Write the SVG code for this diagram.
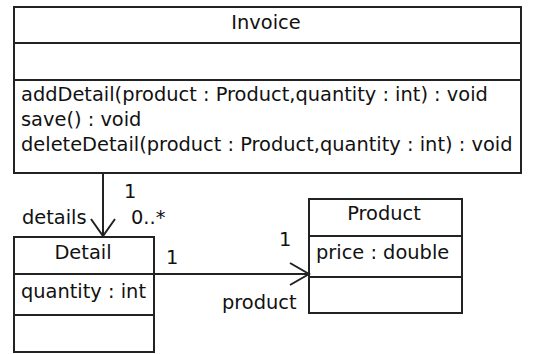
<svg xmlns="http://www.w3.org/2000/svg" width="537" height="354" viewBox="0 0 537 354">
  <style>
    .box { fill: #ffffff; stroke: #222222; stroke-width: 2; }
    .div { stroke: #222222; stroke-width: 2; }
    .edge { stroke: #222222; stroke-width: 2; fill: none; }
    text { font-family: "DejaVu Sans", "Liberation Sans", sans-serif; font-size: 19.4px; fill: #111111; }
    .c { text-anchor: middle; }
  </style>
  <rect width="537" height="354" fill="#ffffff"/>

  <g id="Invoice">
    <rect class="box" x="14" y="7" width="507" height="166"/>
    <line class="div" x1="14" y1="43" x2="521" y2="43"/>
    <line class="div" x1="14" y1="80" x2="521" y2="80"/>
    <text class="c" x="266" y="29">Invoice</text>
    <text x="21" y="101">addDetail(product : Product,quantity : int) : void</text>
    <text x="21" y="126">save() : void</text>
    <text x="21" y="151">deleteDetail(product : Product,quantity : int) : void</text>
  </g>

  <g id="Detail">
    <rect class="box" x="14" y="237" width="140" height="115"/>
    <line class="div" x1="14" y1="274" x2="154" y2="274"/>
    <line class="div" x1="14" y1="315" x2="154" y2="315"/>
    <text class="c" x="83" y="259">Detail</text>
    <text x="21" y="298">quantity : int</text>
  </g>

  <g id="Product">
    <rect class="box" x="309" y="199" width="153" height="114"/>
    <line class="div" x1="309" y1="236" x2="462" y2="236"/>
    <line class="div" x1="309" y1="277" x2="462" y2="277"/>
    <text class="c" x="384" y="220">Product</text>
    <text x="316" y="259">price : double</text>
  </g>

  <g id="connectors">
    <!-- Invoice -> Detail (details, 1 / 0..*) -->
    <line class="edge" x1="103" y1="173" x2="103" y2="236"/>
    <polyline class="edge" points="91,219 103,236 115,219"/>
    <text x="124" y="198">1</text>
    <text x="131" y="224">0..*</text>
    <text x="22" y="224">details</text>

    <!-- Detail -> Product (product, 1 / 1) -->
    <line class="edge" x1="154" y1="274" x2="309" y2="274"/>
    <polyline class="edge" points="290,263 309,274 290,285"/>
    <text x="166" y="264">1</text>
    <text x="279" y="246">1</text>
    <text x="222" y="309">product</text>
  </g>
</svg>
